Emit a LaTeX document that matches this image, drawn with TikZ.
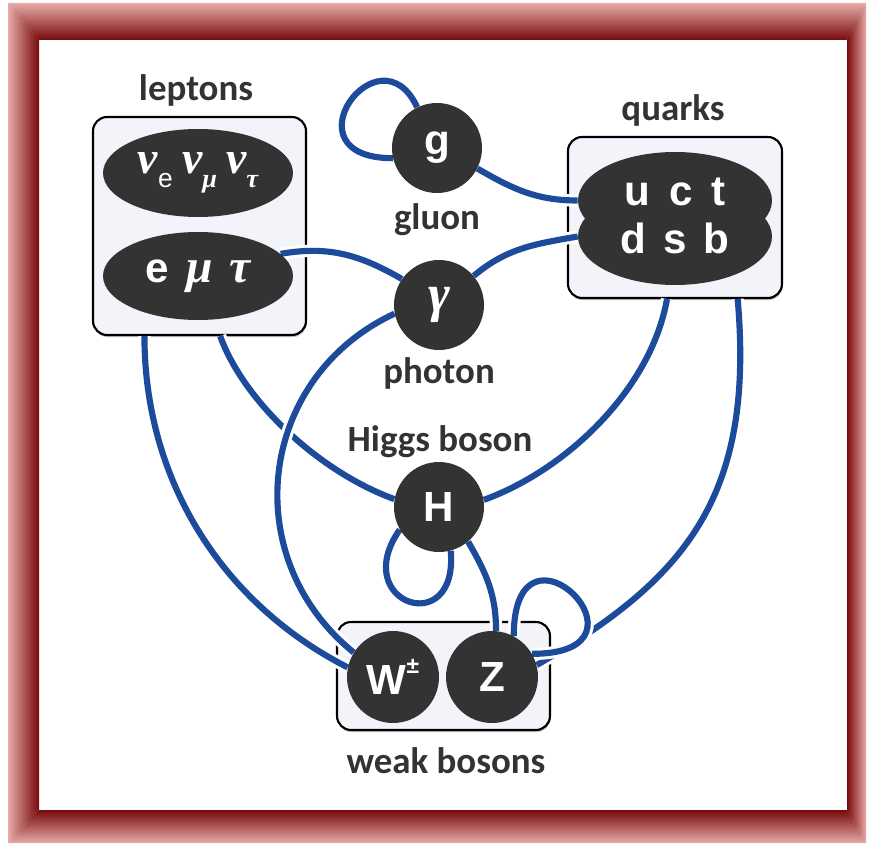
\documentclass[tikz,border=0pt]{standalone}
\usepackage{fontspec}
\setmainfont{Carlito}
\newfontfamily\symfont{Liberation Sans}
\newfontfamily\grkfont{Liberation Serif}
\newcommand{\gk}[1]{{\grkfont\bfseries\itshape #1}}
\newcommand{\lsub}[1]{\raisebox{-0.3em}{\fontsize{15}{15}\selectfont #1}}
\usetikzlibrary{shapes.geometric, calc, shadows}
\definecolor{wire}{HTML}{1D4B9B}
\definecolor{ink}{HTML}{333333}
\definecolor{panel}{HTML}{F3F3FA}
\definecolor{rimdark}{HTML}{780A0A}
\definecolor{rimlight}{HTML}{E8AAAA}
\pgfdeclarelayer{back}
\pgfdeclarelayer{wires}
\pgfsetlayers{back,wires,main}
\tikzset{
  prt/.style={circle, fill=ink, minimum size=1.8cm, inner sep=0pt, text=white, font=\symfont\bfseries\fontsize{24}{24}\selectfont},
  fam/.style={ellipse, fill=ink, minimum width=3.8cm, minimum height=1.76cm, inner sep=0pt, text=white, font=\symfont\bfseries\fontsize{24}{24}\selectfont},
  grp/.style={draw=black, line width=1.2pt, fill=panel, rounded corners=0.28cm, inner sep=0pt, drop shadow={shadow xshift=0.4pt, shadow yshift=-1.2pt, opacity=0.5}},
  wr/.style={draw=wire, line width=3.5pt, preaction={draw=white, line width=7pt}},
  glab/.style={text=ink, anchor=base, inner sep=0pt, font=\bfseries\fontsize{21}{21}\selectfont},
  qrow/.style={text=white, inner sep=0pt, font=\symfont\bfseries\fontsize{24}{24}\selectfont}
}

\begin{document}
\begin{tikzpicture}[x=0.02cm, y=0.02cm]
	\useasboundingbox (0,0) rectangle (876,846);
	\begin{pgfonlayer}{back}
		\shade[top color=rimlight, bottom color=rimdark] (8,843) -- (866,843) -- (847,806) -- (39,806) -- cycle;
		\shade[left color=rimlight, right color=rimdark] (8,843) -- (39,806) -- (39,36) -- (8,3) -- cycle;
		\shade[left color=rimdark, right color=rimlight] (866,843) -- (866,3) -- (847,36) -- (847,806) -- cycle;
		\shade[top color=rimdark, bottom color=rimlight] (8,3) -- (39,36) -- (847,36) -- (866,3) -- cycle;
		\node[grp, minimum width=4.26cm, minimum height=4.36cm] (lepbox) at (199.5,620) {};
		\node[grp, minimum width=4.28cm, minimum height=3.22cm] (qbox) at (675,628.5) {};
		\node[grp, minimum width=4.26cm, minimum height=2.16cm] (wbox) at (443.5,170) {};
	\end{pgfonlayer}
	\node[fam, font=\fontsize{26}{26}\selectfont] (nu) at (198,673) {\gk{ν}\lsub{\symfont e}\hspace{0.2em}\gk{ν\lsub{μ}}\hspace{0.2em}\gk{ν\lsub{τ}}};
	\node[fam] (ell) at (198,570) {e\hspace{0.4em}\gk{\fontsize{27}{27}\selectfont μ}\hspace{0.4em}\gk{\fontsize{27}{27}\selectfont τ}};
	\node[fam, minimum width=3.88cm, minimum height=1.94cm] (qtop) at (675,645.5) {};
	\node[fam, minimum width=3.88cm, minimum height=1.94cm] (qbot) at (675,609.5) {};
	\node[qrow] (uct) at (675,654) {u\hspace{0.45em}c\hspace{0.45em}t};
	\node[qrow] (dsb) at (675,608) {d\hspace{0.4em}s\hspace{0.4em}b};
	\node[prt] (g) at (437,698) {g};
	\node[prt, font=\fontsize{30}{30}\selectfont] (ph) at (439,541) {\gk{γ}};
	\node[prt] (H) at (439,339) {H};
	\node[prt, minimum size=1.84cm] (W) at (393,169) {W\raisebox{0.5em}{\fontsize{13}{13}\selectfont ±}};
	\node[prt, minimum size=1.84cm] (Z) at (492,169) {Z};
	\node[glab] (lepl) at (196,745) {leptons};
	\node[glab] (ql) at (673,725) {quarks};
	\node[glab] (gl) at (437,616) {gluon};
	\node[glab] (phl) at (439,462) {photon};
	\node[glab] (hl) at (440,394) {Higgs boson};
	\node[glab] (wl) at (446,73) {weak bosons};
	\begin{pgfonlayer}{wires}
		\draw[wr] (g.116) .. controls +(115:90) and +(180:110) .. (g.193);
		\draw[wr] (g.-27) to[out=-30, in=180] (qtop.west);
		\draw[wr] (ell.15) to[out=10, in=150] (ph.145);
		\draw[wr] (ph.40) to[out=40, in=190] (qbot.west);
		\draw[wr] ($(lepbox.south west)!0.244!(lepbox.south east)$) .. controls +(-90:145) and +(153:140) .. (W.168);
		\draw[wr] ($(lepbox.south west)!0.596!(lepbox.south east)$) .. controls +(-70:70) and +(160:80) .. (H.170);
		\draw[wr] (ph.191) .. controls +(205:151) and +(141:151) .. (W.148);
		\draw[wr] (H.9) .. controls +(20:90) and +(-100:90) .. ($(qbox.south west)!0.463!(qbox.south east)$);
		\draw[wr] ($(qbox.south west)!0.79!(qbox.south east)$) .. controls +(-85:200) and +(30:170) .. (Z.15);
		\draw[wr] (H.210) .. controls +(235:90) and +(275:90) .. (H.285);
		\draw[wr] (H.-50) to[out=-60, in=90] (Z.85);
		\draw[wr] (Z.62) .. controls +(90:135) and +(0:135) .. (Z.30);
	\end{pgfonlayer}
\end{tikzpicture}
\end{document}
